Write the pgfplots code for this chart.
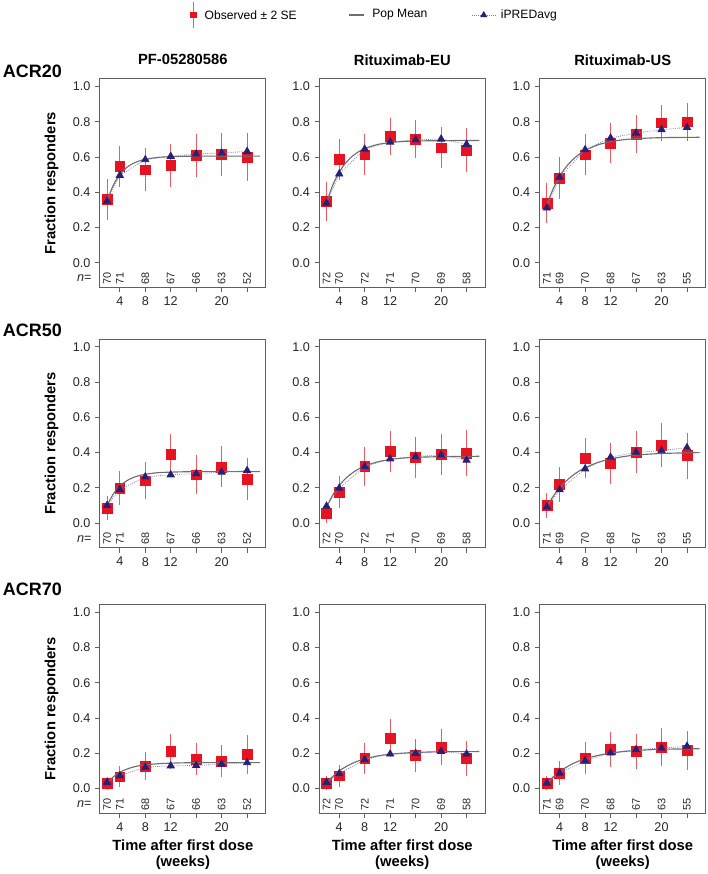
\documentclass[border=0pt]{standalone}
\usepackage{pgfplots}
\pgfplotsset{compat=1.18}
\usepackage{fontspec}
\setmainfont{Liberation Sans}
\definecolor{obsred}{RGB}{230,20,35}
\definecolor{errred}{RGB}{236,90,100}
\definecolor{popgray}{RGB}{110,110,110}
\definecolor{trinavy}{RGB}{38,32,120}
\definecolor{ipredline}{RGB}{120,120,205}
\definecolor{axcol}{RGB}{95,95,95}

\pgfplotsset{
  panel/.style={
    scale only axis, width=125pt, height=157pt,
    xmin=0.85, xmax=26.96, ymin=-0.141, ymax=1.044,
    clip mode=individual,
    axis line style={axcol, line width=0.75pt},
    xtick={4,8,12,16,20,24}, xticklabels={4,8,12,,20,},
    ytick={0,0.2,0.4,0.6,0.8,1}, yticklabels={0.0,0.2,0.4,0.6,0.8,1.0},
    tick align=outside, tick pos=left,
    major tick length=3.5pt,
    tick style={axcol, line width=0.6pt},
    tick label style={font=\fontsize{9.5}{10}\selectfont, text=black!85},
    every axis y label/.style={at={(axis description cs:-0.29,0.5)}, rotate=90, anchor=center, font=\bfseries\fontsize{11.1}{12}\selectfont},
  },
}
\tikzset{nlab/.style={rotate=90, inner sep=0pt, font=\fontsize{8.2}{8}\selectfont, text=black!85}}

\newcommand\drawpanel[3]{%
  \addplot[only marks, mark=square*, mark size=3.7pt, color=obsred,
    error bars/.cd, y dir=both, y explicit, error mark=none,
    error bar style={errred, line width=0.65pt}]
    table[row sep=\\, x=t, y=p, y error=e] {t p e\\ #1};
  \addplot[popgray, line width=0.85pt, smooth, no markers]
    table[row sep=\\, x=t, y=v] {t v\\ #3};
  \addplot[ipredline, densely dotted, line width=0.6pt, mark=triangle*, mark size=3.1pt,
    mark options={solid, fill=trinavy, draw=trinavy}]
    table[row sep=\\, x=t, y=v] {t v\\ #2};
}
\newcommand\nlabels[7]{%
  \node[nlab] at (axis cs:2,-0.09) {#1};
  \node[nlab] at (axis cs:4,-0.09) {#2};
  \node[nlab] at (axis cs:8,-0.09) {#3};
  \node[nlab] at (axis cs:12,-0.09) {#4};
  \node[nlab] at (axis cs:16,-0.09) {#5};
  \node[nlab] at (axis cs:20,-0.09) {#6};
  \node[nlab] at (axis cs:24,-0.09) {#7};
}
\newcommand\nequals{\node[anchor=east, inner sep=0pt, xshift=-6pt, font=\fontsize{9.5}{10}\selectfont, text=black!85] at (axis cs:0.85,-0.09) {\textit{n}=};}
\newcommand\coltitle[1]{\node[font=\bfseries\fontsize{11.1}{12}\selectfont, yshift=14.25pt] at (rel axis cs:0.5,1) {#1};}
\newcommand\xlab{%
  \node[font=\bfseries\fontsize{11.1}{12}\selectfont, yshift=-23.7pt] at (rel axis cs:0.5,0) {Time after first dose};
  \node[font=\bfseries\fontsize{11.1}{12}\selectfont, yshift=-37.2pt] at (rel axis cs:0.5,0) {(weeks)};}

\begin{document}
\begin{tikzpicture}
\path (0,0) rectangle (531.75pt,-655.5pt);

% legend
\draw[errred, line width=0.65pt] (145.7pt,-1.5pt) -- (145.7pt,-21pt);
\fill[obsred] (143.1pt,-8.65pt) rectangle (148.3pt,-13.85pt);
\node[anchor=west, inner sep=0pt, font=\fontsize{9.1}{10}\selectfont] at (153.75pt,-11.25pt) {Observed ± 2 SE};
\draw[popgray, line width=0.85pt] (262.5pt,-11.25pt) -- (273.75pt,-11.25pt);
\node[anchor=west, inner sep=0pt, font=\fontsize{9.1}{10}\selectfont] at (279.75pt,-11.25pt) {Pop Mean};
\draw[ipredline, densely dotted, line width=0.6pt] (354.75pt,-11.25pt) -- (372.75pt,-11.25pt);
\fill[trinavy] (363.75pt,-8.2pt) -- (366.4pt,-12.8pt) -- (361.1pt,-12.8pt) -- cycle;
\node[anchor=west, inner sep=0pt, font=\fontsize{9.1}{10}\selectfont] at (376.5pt,-11.25pt) {iPREDavg};

% row labels
\node[anchor=west, inner sep=0pt, font=\bfseries\fontsize{13.5}{14}\selectfont] at (2pt,-54pt) {ACR20};
\node[anchor=west, inner sep=0pt, font=\bfseries\fontsize{13.5}{14}\selectfont] at (2pt,-248.25pt) {ACR50};
\node[anchor=west, inner sep=0pt, font=\bfseries\fontsize{13.5}{14}\selectfont] at (2pt,-443.25pt) {ACR70};

% ---------- Row 1: ACR20 ----------
\begin{axis}[panel, at={(75pt,-59.25pt)}, anchor=north west, ylabel={Fraction responders}]
\drawpanel{2 0.358 0.115\\ 4 0.547 0.118\\ 8 0.528 0.121\\ 12 0.551 0.122\\ 16 0.609 0.120\\ 20 0.617 0.122\\ 24 0.598 0.136\\}
{2 0.349\\ 4 0.496\\ 8 0.585\\ 12 0.604\\ 16 0.617\\ 20 0.623\\ 24 0.632\\}
{2 0.350\\ 3 0.442\\ 4 0.500\\ 5 0.538\\ 6 0.562\\ 7 0.577\\ 8 0.587\\ 10 0.598\\ 12 0.602\\ 14 0.604\\ 16 0.605\\ 20 0.605\\ 26 0.605\\}
\nlabels{70}{71}{68}{67}{66}{63}{52}
\nequals
\coltitle{PF-05280586}
\end{axis}

\begin{axis}[panel, at={(240pt,-59.25pt)}, anchor=north west]
\drawpanel{2 0.349 0.112\\ 4 0.585 0.118\\ 8 0.613 0.115\\ 12 0.717 0.107\\ 16 0.702 0.109\\ 20 0.653 0.115\\ 24 0.640 0.126\\}
{2 0.338\\ 4 0.504\\ 8 0.645\\ 12 0.685\\ 16 0.698\\ 20 0.702\\ 24 0.672\\}
{2 0.340\\ 3 0.442\\ 4 0.514\\ 5 0.566\\ 6 0.603\\ 7 0.629\\ 8 0.648\\ 10 0.671\\ 12 0.682\\ 14 0.688\\ 16 0.691\\ 20 0.693\\ 26 0.694\\}
\nlabels{72}{70}{72}{71}{70}{69}{58}
\coltitle{Rituximab-EU}
\end{axis}

\begin{axis}[panel, at={(405.75pt,-59.25pt)}, anchor=north west]
\drawpanel{2 0.338 0.112\\ 4 0.481 0.120\\ 8 0.613 0.116\\ 12 0.679 0.113\\ 16 0.730 0.108\\ 20 0.794 0.102\\ 24 0.800 0.108\\}
{2 0.311\\ 4 0.485\\ 8 0.642\\ 12 0.708\\ 16 0.736\\ 20 0.755\\ 24 0.768\\}
{2 0.330\\ 3 0.421\\ 4 0.490\\ 5 0.543\\ 6 0.583\\ 7 0.614\\ 8 0.637\\ 10 0.669\\ 12 0.687\\ 14 0.698\\ 16 0.704\\ 20 0.710\\ 26 0.712\\}
\nlabels{71}{69}{70}{68}{67}{63}{55}
\coltitle{Rituximab-US}
\end{axis}

% ---------- Row 2: ACR50 ----------
\begin{axis}[panel, at={(75pt,-255pt)}, anchor=north west, ylabel={Fraction responders}]
\drawpanel{2 0.085 0.067\\ 4 0.198 0.095\\ 8 0.240 0.104\\ 12 0.389 0.119\\ 16 0.274 0.110\\ 20 0.319 0.117\\ 24 0.251 0.120\\}
{2 0.100\\ 4 0.191\\ 8 0.262\\ 12 0.274\\ 16 0.280\\ 20 0.289\\ 24 0.298\\}
{2 0.100\\ 3 0.166\\ 4 0.210\\ 5 0.238\\ 6 0.257\\ 7 0.269\\ 8 0.277\\ 10 0.286\\ 12 0.289\\ 14 0.291\\ 16 0.292\\ 20 0.292\\ 26 0.292\\}
\nlabels{70}{71}{68}{67}{66}{63}{52}
\nequals
\end{axis}

\begin{axis}[panel, at={(240pt,-255pt)}, anchor=north west]
\drawpanel{2 0.057 0.055\\ 4 0.174 0.091\\ 8 0.321 0.110\\ 12 0.408 0.117\\ 16 0.374 0.116\\ 20 0.391 0.117\\ 24 0.398 0.129\\}
{2 0.096\\ 4 0.198\\ 8 0.321\\ 12 0.364\\ 16 0.377\\ 20 0.387\\ 24 0.357\\}
{2 0.091\\ 3 0.160\\ 4 0.213\\ 5 0.253\\ 6 0.283\\ 7 0.306\\ 8 0.324\\ 10 0.347\\ 12 0.361\\ 14 0.369\\ 16 0.373\\ 20 0.377\\ 26 0.379\\}
\nlabels{72}{70}{72}{71}{70}{69}{58}
\end{axis}

\begin{axis}[panel, at={(405.75pt,-255pt)}, anchor=north west]
\drawpanel{2 0.100 0.071\\ 4 0.219 0.100\\ 8 0.370 0.115\\ 12 0.338 0.115\\ 16 0.402 0.120\\ 20 0.443 0.125\\ 24 0.383 0.131\\}
{2 0.091\\ 4 0.189\\ 8 0.308\\ 12 0.374\\ 16 0.402\\ 20 0.411\\ 24 0.428\\}
{2 0.095\\ 3 0.153\\ 4 0.200\\ 5 0.238\\ 6 0.269\\ 7 0.294\\ 8 0.314\\ 10 0.344\\ 12 0.364\\ 14 0.377\\ 16 0.386\\ 20 0.395\\ 26 0.400\\}
\nlabels{71}{69}{70}{68}{67}{63}{55}
\end{axis}

% ---------- Row 3: ACR70 ----------
\begin{axis}[panel, at={(75pt,-454.5pt)}, anchor=north west, ylabel={Fraction responders}]
\drawpanel{2 0.028 0.039\\ 4 0.066 0.059\\ 8 0.127 0.081\\ 12 0.209 0.099\\ 16 0.165 0.091\\ 20 0.156 0.091\\ 24 0.194 0.110\\}
{2 0.034\\ 4 0.072\\ 8 0.120\\ 12 0.128\\ 16 0.130\\ 20 0.137\\ 24 0.146\\}
{2 0.030\\ 3 0.066\\ 4 0.091\\ 5 0.108\\ 6 0.120\\ 7 0.128\\ 8 0.133\\ 10 0.140\\ 12 0.143\\ 14 0.145\\ 16 0.146\\ 20 0.146\\ 26 0.146\\}
\nlabels{70}{71}{68}{67}{66}{63}{52}
\nequals
\xlab
\end{axis}

\begin{axis}[panel, at={(240pt,-454.5pt)}, anchor=north west]
\drawpanel{2 0.030 0.040\\ 4 0.072 0.062\\ 8 0.170 0.089\\ 12 0.284 0.107\\ 16 0.188 0.093\\ 20 0.233 0.102\\ 24 0.172 0.099\\}
{2 0.034\\ 4 0.083\\ 8 0.163\\ 12 0.195\\ 16 0.199\\ 20 0.210\\ 24 0.195\\}
{2 0.030\\ 3 0.068\\ 4 0.099\\ 5 0.122\\ 6 0.141\\ 7 0.156\\ 8 0.167\\ 10 0.184\\ 12 0.194\\ 14 0.200\\ 16 0.204\\ 20 0.208\\ 26 0.209\\}
\nlabels{72}{70}{72}{71}{70}{69}{58}
\xlab
\end{axis}

\begin{axis}[panel, at={(405.75pt,-454.5pt)}, anchor=north west]
\drawpanel{2 0.030 0.040\\ 4 0.087 0.068\\ 8 0.172 0.090\\ 12 0.220 0.100\\ 16 0.210 0.100\\ 20 0.235 0.107\\ 24 0.214 0.111\\}
{2 0.030\\ 4 0.087\\ 8 0.157\\ 12 0.201\\ 16 0.220\\ 20 0.229\\ 24 0.239\\}
{2 0.030\\ 3 0.066\\ 4 0.095\\ 5 0.119\\ 6 0.139\\ 7 0.155\\ 8 0.168\\ 10 0.187\\ 12 0.200\\ 14 0.209\\ 16 0.215\\ 20 0.222\\ 26 0.225\\}
\nlabels{71}{69}{70}{68}{67}{63}{55}
\xlab
\end{axis}
\end{tikzpicture}
\end{document}
